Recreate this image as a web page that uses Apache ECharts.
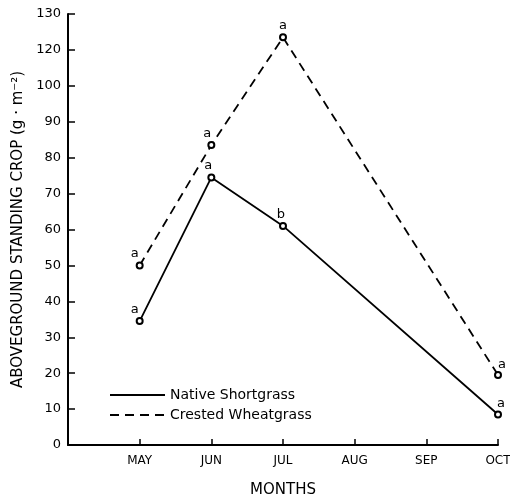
<!DOCTYPE html>
<html>
<head>
<meta charset="utf-8">
<script src="https://cdn.jsdelivr.net/npm/echarts@6/dist/echarts.min.js"></script>
<style>html,body{margin:0;padding:0;background:#fff}#c{width:510px;height:494px}</style>
</head>
<body>
<div id="c"></div>
<script>
const months = ['', 'MAY', 'JUN', 'JUL', 'AUG', 'SEP', 'OCT'];
const yTickLabels = ['0','10','20','30','40','50','60','70','80','90','100','120','130'];
const nativeShortgrass = [null, 34.5, 74.5, 61, null, null, 8.5];
const crestedWheatgrass = [null, 50, 83.5, 113.5, null, null, 19.5];
const nativeLetters = ['', 'a', 'a', 'b', '', '', 'a'];
const crestedLetters = ['', 'a', 'a', 'a', '', '', 'a'];
const seriesNames = ['Native Shortgrass', 'Crested Wheatgrass'];

const nativeOffsets = [null, [-5,0], [-3,0], [-2,0], null, null, [3,1]];
const crestedOffsets = [null, [-5,0], [-4,0], [0,0], null, null, [4,1]];

function build(values, letters, offsets) {
  const out = [];
  values.forEach((v, i) => {
    if (v === null) return;
    out.push({
      value: [i, v],
      label: { show: true, formatter: letters[i], offset: offsets[i] }
    });
  });
  return out;
}

const font = 'DejaVu Sans';
const chart = echarts.init(document.getElementById('c'));
chart.setOption({
  backgroundColor: '#fff',
  animation: false,
  grid: { left: 68, right: 12, top: 14, bottom: 49, outerBoundsMode: 'none', containLabel: false },
  xAxis: {
    type: 'category',
    data: months,
    boundaryGap: false,
    name: 'MONTHS',
    nameLocation: 'middle',
    nameGap: 38,
    nameTextStyle: { color: '#000', fontFamily: font, fontSize: 15 },
    axisLine: { lineStyle: { color: '#000', width: 2 } },
    axisTick: { show: true, inside: true, length: 6, lineStyle: { color: '#000', width: 1.5 },
      interval: (i) => i > 0 },
    axisLabel: { color: '#000', fontFamily: font, fontSize: 12, margin: 10 },
    splitLine: { show: false }
  },
  yAxis: {
    type: 'value',
    min: 0, max: 120, interval: 10,
    name: 'ABOVEGROUND STANDING CROP (g · m⁻²)',
    nameLocation: 'middle',
    nameGap: 33,
    nameTextStyle: { color: '#000', fontFamily: font, fontSize: 15 },
    axisLine: { show: true, lineStyle: { color: '#000', width: 2 } },
    axisTick: { show: true, inside: true, length: 7, lineStyle: { color: '#000', width: 1.5 } },
    axisLabel: { color: '#000', fontFamily: font, fontSize: 13, margin: 7,
      formatter: (v) => yTickLabels[Math.round(v / 10)] },
    splitLine: { show: false }
  },
  legend: {
    orient: 'vertical',
    left: 104, top: 383,
    itemWidth: 55, itemHeight: 12, itemGap: 6,
    textStyle: { color: '#000', fontFamily: font, fontSize: 14 },
    itemStyle: { opacity: 0 },
    data: seriesNames
  },
  series: [
    {
      name: seriesNames[0], type: 'line',
      data: build(nativeShortgrass, nativeLetters, nativeOffsets),
      symbol: 'emptyCircle', symbolSize: 6,
      itemStyle: { color: '#000', borderColor: '#000', borderWidth: 1.5 },
      lineStyle: { color: '#000', width: 1.8, type: 'solid' },
      label: { position: 'top', distance: 1, color: '#000', fontFamily: font, fontSize: 13 }
    },
    {
      name: seriesNames[1], type: 'line',
      data: build(crestedWheatgrass, crestedLetters, crestedOffsets),
      symbol: 'emptyCircle', symbolSize: 6,
      itemStyle: { color: '#000', borderColor: '#000', borderWidth: 1.5 },
      lineStyle: { color: '#000', width: 1.8, type: [9, 6] },
      label: { position: 'top', distance: 1, color: '#000', fontFamily: font, fontSize: 13 }
    }
  ]
});
</script>
</body>
</html>
